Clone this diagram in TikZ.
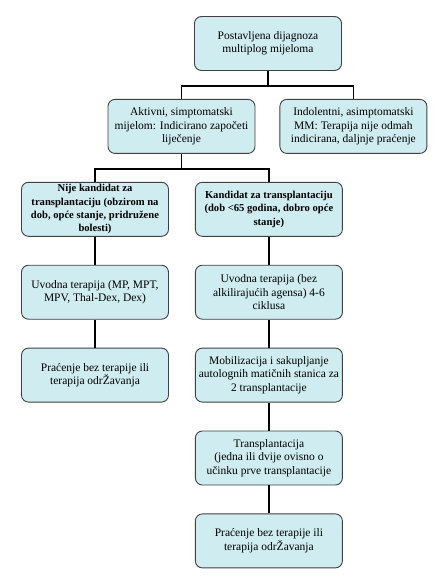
\documentclass[tikz,border=0pt]{standalone}
\usepackage{fontspec}
\setmainfont{Liberation Serif}
\usepackage{tikz}
\usetikzlibrary{positioning}
\definecolor{boxfill}{RGB}{207, 236, 240}
\definecolor{boxline}{RGB}{64, 64, 64}

\begin{document}
\begin{tikzpicture}[
  box/.style={rectangle, rounded corners=7pt, draw=boxline, fill=boxfill, line width=0.9pt,
              minimum width=147pt, minimum height=54pt, inner sep=2pt,
              align=center, font=\fontsize{11.5}{13.4}\selectfont},
  boldbox/.style={box, font=\bfseries\fontsize{10.6}{13.4}\selectfont},
  link/.style={line width=1.5pt, black},
  node distance=28pt and 24pt
]
\useasboundingbox (0,0) rectangle (440pt,-586pt);

\node[box] (diag) at (268pt,-43.5pt) {Postavljena dijagnoza\\multiplog mijeloma};
\node[box, below=of diag, xshift=-86.5pt] (active) {Aktivni, simptomatski\\mijelom: Indicirano započeti\\liječenje};
\node[box, right=of active] (indolent) {Indolentni, asimptomatski\\MM: Terapija nije odmah\\indicirana, daljnje praćenje};

\node[boldbox, below=of active, xshift=-86.5pt] (nocand) {Nije kandidat za\\transplantaciju (obzirom na\\dob, opće stanje, pridružene\\bolesti)};
\node[boldbox, right=26pt of nocand] (cand) {Kandidat za transplantaciju\\(dob <65 godina, dobro opće\\stanje)};

% left branch
\node[box, below=of nocand] (induct1) {Uvodna terapija (MP, MPT,\\MPV, Thal-Dex, Dex)};
\node[box, below=of induct1] (follow1) {Praćenje bez terapije ili\\terapija odrŽavanja};

% right branch
\node[box, below=of cand] (induct2) {Uvodna terapija (bez\\alkilirajućih agensa) 4-6\\ciklusa};
\node[box, below=of induct2] (mobil) {Mobilizacija i sakupljanje\\autolognih matičnih stanica za\\2 transplantacije};
\node[box, below=of mobil] (transpl) {Transplantacija\\(jedna ili dvije ovisno o\\učinku prve transplantacije};
\node[box, below=of transpl] (follow2) {Praćenje bez terapije ili\\terapija odrŽavanja};

\draw[link] (diag.south) -- ++(0,-15pt) coordinate (j1);
\draw[link] (j1) -| (active.north);
\draw[link] (j1) -| (indolent.north);

\draw[link] (active.south) -- ++(0,-15pt) coordinate (j2);
\draw[link] (j2) -| (nocand.north);
\draw[link] (j2) -| (cand.north);

\draw[link] (nocand) -- (induct1);
\draw[link] (induct1) -- (follow1);
\draw[link] (cand) -- (induct2);
\draw[link] (induct2) -- (mobil);
\draw[link] (mobil) -- (transpl);
\draw[link] (transpl) -- (follow2);

\end{tikzpicture}
\end{document}
